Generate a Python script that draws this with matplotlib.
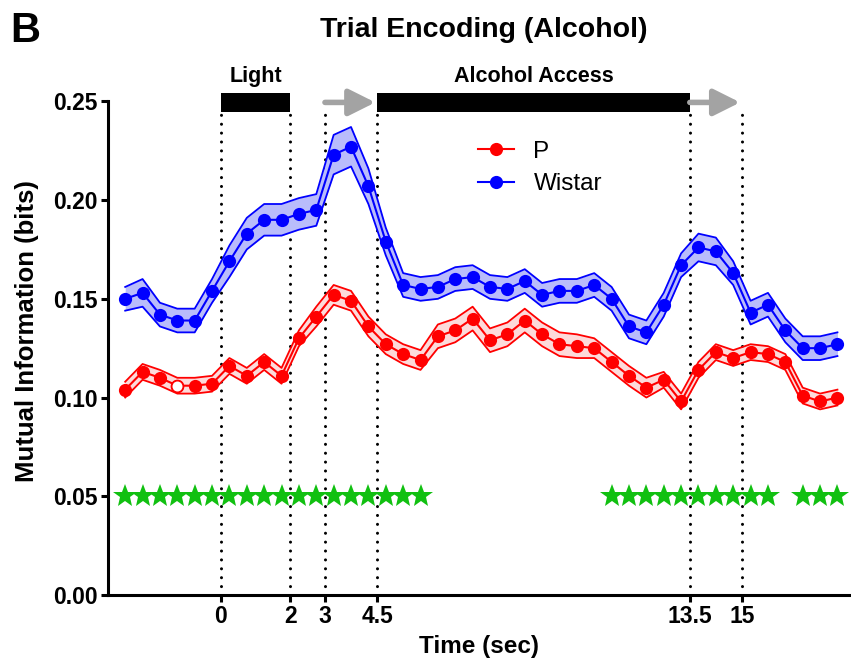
import matplotlib

matplotlib.use("Agg")

import matplotlib.pyplot as plt
from matplotlib.patches import Rectangle


# ============================================================
# DATI
# ============================================================

time_bins = [
    -2.75, -2.25, -1.75, -1.25, -0.75, -0.25,
    0.25, 0.75, 1.25, 1.75, 2.25, 2.75,
    3.25, 3.75, 4.25, 4.75, 5.25, 5.75,
    6.25, 6.75, 7.25, 7.75, 8.25, 8.75,
    9.25, 9.75, 10.25, 10.75, 11.25, 11.75,
    12.25, 12.75, 13.25, 13.75, 14.25, 14.75,
    15.25, 15.75, 16.25, 16.75, 17.25, 17.75,
]

p_mean = [
    0.104, 0.113, 0.110, 0.106, 0.106, 0.107,
    0.116, 0.111, 0.118, 0.111, 0.130, 0.141,
    0.152, 0.149, 0.136, 0.127, 0.122, 0.119,
    0.131, 0.134, 0.140, 0.129, 0.132, 0.139,
    0.132, 0.127, 0.126, 0.125, 0.118, 0.111,
    0.105, 0.109, 0.098, 0.114, 0.123, 0.120,
    0.123, 0.122, 0.118, 0.101, 0.098, 0.100,
]

p_sem = [
    0.004, 0.004, 0.004, 0.004, 0.004, 0.004,
    0.004, 0.004, 0.004, 0.004, 0.004, 0.005,
    0.005, 0.005, 0.005, 0.005, 0.005, 0.005,
    0.006, 0.006, 0.006, 0.006, 0.006, 0.006,
    0.006, 0.006, 0.006, 0.005, 0.005, 0.005,
    0.005, 0.004, 0.004, 0.004, 0.004, 0.004,
    0.004, 0.004, 0.004, 0.004, 0.004, 0.004,
]

wistar_mean = [
    0.150, 0.153, 0.142, 0.139, 0.139, 0.154,
    0.169, 0.183, 0.190, 0.190, 0.193, 0.195,
    0.223, 0.227, 0.207, 0.179, 0.157, 0.155,
    0.156, 0.160, 0.161, 0.156, 0.155, 0.159,
    0.152, 0.154, 0.154, 0.157, 0.150, 0.136,
    0.133, 0.147, 0.167, 0.176, 0.174, 0.163,
    0.143, 0.147, 0.134, 0.125, 0.125, 0.127,
]

wistar_sem = [
    0.006, 0.007, 0.006, 0.006, 0.006, 0.006,
    0.008, 0.008, 0.008, 0.008, 0.008, 0.008,
    0.010, 0.010, 0.009, 0.007, 0.006, 0.006,
    0.006, 0.006, 0.006, 0.006, 0.006, 0.006,
    0.006, 0.006, 0.006, 0.006, 0.006, 0.006,
    0.006, 0.006, 0.006, 0.007, 0.007, 0.006,
    0.006, 0.006, 0.006, 0.006, 0.006, 0.006,
]

# bin con differenza significativa (stelle verdi)
significant_bins = [
    -2.75, -2.25, -1.75, -1.25, -0.75, -0.25,
    0.25, 0.75, 1.25, 1.75, 2.25, 2.75,
    3.25, 3.75, 4.25, 4.75, 5.25, 5.75,
    11.25, 11.75, 12.25, 12.75, 13.25, 13.75,
    14.25, 14.75, 15.25, 15.75,
    16.75, 17.25, 17.75,
]

# punto aperto nella serie P
open_point_time = -1.25

event_times = [0, 2, 3, 4.5, 13.5, 15]
event_labels = ["0", "2", "3", "4.5", "13.5", "15"]

y_ticks = [0.00, 0.05, 0.10, 0.15, 0.20, 0.25]


# ============================================================
# FIGURA
# ============================================================

plt.rcParams["font.family"] = ["Liberation Sans", "DejaVu Sans"]

figure = plt.figure(figsize=(8.51, 6.64), dpi=100)

axis = figure.add_axes([0.1269, 0.1039, 0.8731, 0.7435])

axis.set_xlim(-3.245, 18.14)
axis.set_ylim(0.0, 0.25)


# linee tratteggiate verticali degli eventi
for event in event_times:

    axis.plot(
        [event, event],
        [0.0, 0.2465],
        color="black",
        linewidth=2.2,
        linestyle=(0, (0.01, 2.9)),
        dash_capstyle="round",
        clip_on=False,
        zorder=1,
    )


# ============================================================
# SERIE CON BANDA SEM
# ============================================================

series = [
    (p_mean, p_sem, "#ff0000", "#fddada", "P"),
    (wistar_mean, wistar_sem, "#0000ff", "#b9bcfb", "Wistar"),
]

for mean, sem, color, fill_color, label in series:

    upper = [m + s for m, s in zip(mean, sem)]
    lower = [m - s for m, s in zip(mean, sem)]

    axis.fill_between(
        time_bins,
        lower,
        upper,
        color=fill_color,
        linewidth=0,
        zorder=2,
    )

    axis.plot(time_bins, upper, color=color, linewidth=1.3, zorder=3)
    axis.plot(time_bins, lower, color=color, linewidth=1.3, zorder=3)

    axis.plot(
        time_bins,
        mean,
        color=color,
        linewidth=1.5,
        marker="o",
        markersize=9.5,
        markeredgewidth=0,
        label=label,
        zorder=4,
    )


# punto aperto (bianco) della serie P
open_index = time_bins.index(open_point_time)

axis.plot(
    [open_point_time],
    [p_mean[open_index]],
    marker="o",
    markersize=8.5,
    markerfacecolor="white",
    markeredgecolor="#ff0000",
    markeredgewidth=1.3,
    linestyle="none",
    zorder=5,
)


# stelle di significatività
axis.plot(
    significant_bins,
    [0.05] * len(significant_bins),
    marker="*",
    markersize=18,
    color="#11c011",
    markeredgewidth=0,
    linestyle="none",
    zorder=4,
)


# ============================================================
# BARRE DEGLI EVENTI
# ============================================================

bar_bottom = 0.2447
bar_height = 0.0095

axis.add_patch(
    Rectangle(
        (0, bar_bottom), 2, bar_height,
        facecolor="black", edgecolor="none", clip_on=False, zorder=6,
    )
)

axis.add_patch(
    Rectangle(
        (4.5, bar_bottom), 9, bar_height,
        facecolor="black", edgecolor="none", clip_on=False, zorder=6,
    )
)

for start, end in [(3, 4.5), (13.5, 15)]:

    axis.annotate(
        "",
        xy=(end - 0.05, bar_bottom + bar_height / 2),
        xytext=(start, bar_bottom + bar_height / 2),
        arrowprops=dict(
            arrowstyle="-|>,head_length=0.8,head_width=0.4",
            color="#a3a3a3",
            linewidth=4,
            mutation_scale=20,
            shrinkA=0,
            shrinkB=0,
        ),
        annotation_clip=False,
        zorder=6,
    )

axis.text(
    1, 0.2575, "Light",
    ha="center", va="bottom", fontsize=15.5, fontweight="bold",
)

axis.text(
    9, 0.2575, "Alcohol Access",
    ha="center", va="bottom", fontsize=15.5, fontweight="bold",
)


# ============================================================
# ASSI ED ETICHETTE
# ============================================================

axis.spines["top"].set_visible(False)
axis.spines["right"].set_visible(False)
axis.spines["left"].set_linewidth(2.2)
axis.spines["bottom"].set_linewidth(2.2)

axis.set_xticks(event_times)
axis.set_xticklabels(event_labels)
axis.set_yticks(y_ticks)
axis.set_yticklabels([f"{tick:.2f}" for tick in y_ticks])

axis.tick_params(
    direction="out",
    length=5,
    width=2.2,
    labelsize=16.5,
    pad=2.5,
)

for label in axis.get_xticklabels() + axis.get_yticklabels():
    label.set_fontweight("bold")

axis.set_xlabel("Time (sec)", fontsize=17.5, fontweight="bold", labelpad=5)
axis.set_ylabel(
    "Mutual Information (bits)", fontsize=18.5, fontweight="bold"
)
axis.yaxis.set_label_coords(-0.093, 0.535)

axis.legend(
    loc="center left",
    bbox_to_anchor=(0.468, 0.865),
    frameon=False,
    fontsize=17.5,
    handlelength=1.5,
    handletextpad=0.8,
    labelspacing=0.45,
)

figure.text(
    0.568, 0.955, "Trial Encoding (Alcohol)",
    ha="center", va="center", fontsize=20.5, fontweight="bold",
)

figure.text(
    0.012, 0.953, "B",
    ha="left", va="center", fontsize=30, fontweight="bold",
)


# ============================================================
# SALVATAGGIO
# ============================================================

figure.savefig("out.png", dpi=100)

plt.close(figure)
